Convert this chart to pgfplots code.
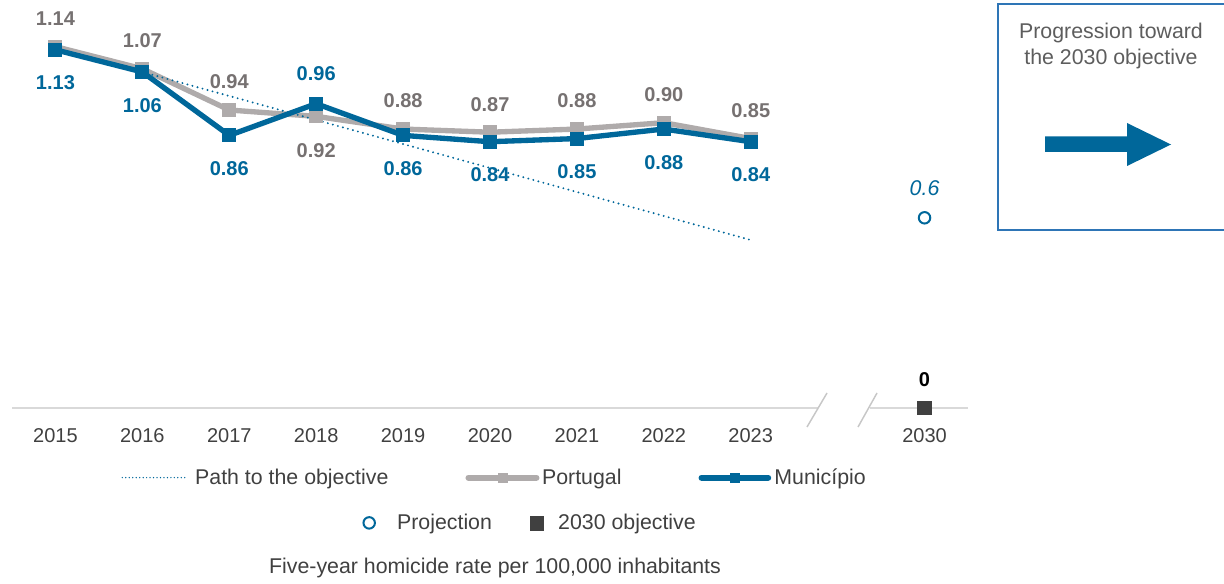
\documentclass[border=0pt]{standalone}
\usepackage{fontspec}
\setmainfont{Liberation Sans}
\usepackage{pgfplots}
\pgfplotsset{compat=1.18}
\usepackage{pgfplotstable}

\definecolor{mblue}{HTML}{00679A}
\definecolor{pgray}{HTML}{AFABAB}
\definecolor{lgray}{HTML}{767171}
\definecolor{tgray}{HTML}{404040}
\definecolor{objgray}{HTML}{404040}
\definecolor{boxblue}{HTML}{2E75B6}
\definecolor{axgray}{HTML}{D9D9D9}
\newcommand\fs{\fontsize{15}{18}\selectfont}
\newcommand\fl{\fontsize{16}{20}\selectfont}

\pgfplotstableread{
x y lab off
0 1.14 1.14 21
1 1.07 1.07 21
2 0.94 0.94 21
3 0.92 0.92 -26
4 0.88 0.88 21
5 0.87 0.87 21
6 0.88 0.88 21
7 0.90 0.90 21
8 0.85 0.85 21
}\portugal

\pgfplotstableread{
x y lab off
0 1.13 1.13 -25
1 1.06 1.06 -25
2 0.86 0.86 -25
3 0.96 0.96 22.5
4 0.86 0.86 -25
5 0.84 0.84 -25
6 0.85 0.85 -25
7 0.88 0.88 -25
8 0.84 0.84 -25
}\municipio

\pgfplotstableread{
x y
1 1.06
8 0.53
}\pathobj

\pgfplotstableread{
x y lab
10 0.6 0.6
}\projection

\pgfplotstableread{
x y lab
10 0 0
}\objective

\begin{document}
\begin{tikzpicture}
\begin{scope}[x=0.75pt, y=-0.75pt, shift={(0pt,437.25pt)}]
  % baseline with break
  \draw[axgray, line width=1.2pt] (12,408) -- (818,408);
  \draw[axgray, line width=1.2pt] (870,408) -- (968,408);
  \draw[axgray!80!gray, line width=1.1pt] (807,427) -- (827,393);
  \draw[axgray!80!gray, line width=1.1pt] (858,427) -- (877,393);
\end{scope}

\begin{axis}[
  at={(9pt,131.25pt)}, anchor=south west,
  scale only axis, width=717pt, height=285.3pt,
  xmin=-0.5, xmax=10.5, ymin=0, ymax=1.2,
  enlargelimits=false, clip=false,
  axis line style={draw=none},
  ytick=\empty,
  xtick={0,1,2,3,4,5,6,7,8,10},
  xticklabels={2015,2016,2017,2018,2019,2020,2021,2022,2023,2030},
  tick style={draw=none}, major tick length=0pt,
  xticklabel style={font=\fs, text=tgray, yshift=-11.5pt},
  /pgf/number format/assume math mode=true,
  legend style={at={(axis description cs:0.5037,-0.183)}, anchor=center,
    draw=none, fill=none, font=\fl, text=tgray,
    legend columns=3, nodes={inner sep=0pt},
    /tikz/every even column/.append style={column sep=57.75pt}},
]
% Portugal
\addplot[forget plot, pgray, line width=4pt, mark=square*, mark size=4.9pt,
  mark options={solid, fill=pgray, draw=pgray, line width=0pt},
  nodes near coords, point meta=explicit symbolic,
  visualization depends on={\thisrow{off} \as \myoff},
  every node near coord/.append style={anchor=center, yshift=\myoff pt,
    font=\fs\bfseries, text=lgray}]
  table[x=x, y=y, meta=lab] {\portugal};
% Path to objective
\addplot[forget plot, mblue, line width=1.6pt, dash pattern=on 0pt off 3.9pt, line cap=round]
  table[x=x, y=y] {\pathobj};
% Municipio
\addplot[forget plot, mblue, line width=4pt, mark=square*, mark size=4.9pt,
  mark options={solid, fill=mblue, draw=mblue, line width=0pt},
  nodes near coords, point meta=explicit symbolic,
  visualization depends on={\thisrow{off} \as \myoff},
  every node near coord/.append style={anchor=center, yshift=\myoff pt,
    font=\fs\bfseries, text=mblue}]
  table[x=x, y=y, meta=lab] {\municipio};
% Projection
\addplot[forget plot, only marks, mark=o, mark size=4.3pt, mblue, line width=1.5pt,
  nodes near coords, point meta=explicit symbolic,
  every node near coord/.append style={anchor=center, yshift=22pt,
    font=\fl\itshape, text=mblue}]
  table[x=x, y=y, meta=lab] {\projection};
% Objective
\addplot[forget plot, only marks, mark=square*, mark size=5pt,
  mark options={fill=objgray, draw=objgray, line width=0pt},
  nodes near coords, point meta=explicit symbolic,
  every node near coord/.append style={anchor=center, yshift=21pt,
    font=\fs\bfseries, text=black}]
  table[x=x, y=y, meta=lab] {\objective};

\addlegendimage{legend image code/.code={
  \draw[mblue, line width=1.1pt, dash pattern=on 0pt off 2.6pt, line cap=round] (0.6pt,0pt) -- (49pt,0pt);
  \path (0pt,0pt) (55pt,0pt);}}
\addlegendentry{Path to the objective}
\addlegendimage{legend image code/.code={
  \draw[pgray, line width=4.5pt, line cap=round] (2pt,0pt) -- (53pt,0pt);
  \fill[pgray] (24pt,-3.6pt) rectangle (31pt,3.6pt);
  \path (0pt,0pt) (57pt,0pt);}}
\addlegendentry{Portugal}
\addlegendimage{legend image code/.code={
  \draw[mblue, line width=4.5pt, line cap=round] (2pt,0pt) -- (52pt,0pt);
  \fill[mblue] (23.5pt,-3.6pt) rectangle (30.5pt,3.6pt);
  \path (0pt,0pt) (56.5pt,0pt);}}
\addlegendentry{Município}
\end{axis}

\begin{axis}[
  at={(9pt,131.25pt)}, anchor=south west,
  scale only axis, width=717pt, height=285.3pt,
  xmin=-0.5, xmax=10.5, ymin=0, ymax=1.2,
  hide axis,
  legend style={at={(axis description cs:0.5408,-0.302)}, anchor=center,
    draw=none, fill=none, font=\fl, text=tgray,
    legend columns=2, nodes={inner sep=0pt},
    /tikz/every even column/.append style={column sep=28.5pt}},
]
\addlegendimage{legend image code/.code={
  \draw[mblue, line width=1.5pt] (0pt,0pt) circle (4.3pt);
  \path (-5pt,0pt) (20.75pt,0pt);}}
\addlegendentry{Projection}
\addlegendimage{legend image code/.code={
  \fill[objgray] (-4.9pt,-5.3pt) rectangle (4.9pt,5.3pt);
  \path (-5pt,0pt) (15.75pt,0pt);}}
\addlegendentry{2030 objective}
\end{axis}

\begin{scope}[x=0.75pt, y=-0.75pt, shift={(0pt,437.25pt)}]
  % caption
  \node[font=\fl, text=tgray] at (495,568) {Five-year homicide rate per 100,000 inhabitants};
  % box
  \draw[boxblue, line width=1.2pt] (998,4) rectangle (1240,230);
  \node[font=\fl, text=tgray!85!white, align=center] at (1111,46)
    {Progression toward\\the 2030 objective};
  \fill[mblue] (1045,136.5) -- (1127,136.5) -- (1127,123) -- (1171,144.5)
    -- (1127,166) -- (1127,152) -- (1045,152) -- cycle;
\end{scope}

\pgfresetboundingbox
\useasboundingbox (0,0) rectangle (918pt,437.25pt);
\end{tikzpicture}
\end{document}
